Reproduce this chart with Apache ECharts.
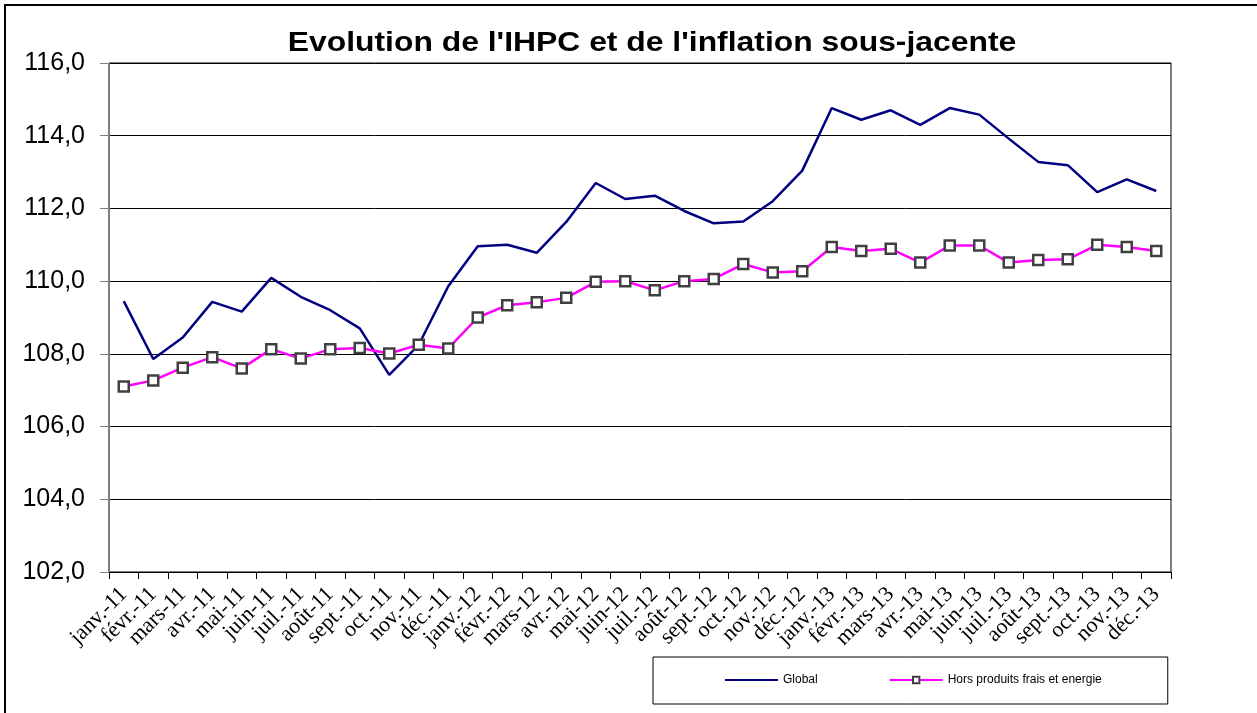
<!DOCTYPE html>
<html>
<head>
<meta charset="utf-8">
<script src="https://cdn.jsdelivr.net/npm/echarts@6/dist/echarts.min.js"></script>
<style>
  html, body { margin: 0; padding: 0; background: #fff; }
  #chart { width: 1257px; height: 713px; }
</style>
</head>
<body>
<div id="chart"></div>
<script>
// mois (janv. 2011 -> déc. 2013)
var months = [
  "janv.-11", "févr.-11", "mars-11", "avr.-11", "mai-11", "juin-11",
  "juil.-11", "août-11", "sept.-11", "oct.-11", "nov.-11", "déc.-11",
  "janv.-12", "févr.-12", "mars-12", "avr.-12", "mai-12", "juin-12",
  "juil.-12", "août-12", "sept.-12", "oct.-12", "nov.-12", "déc.-12",
  "janv.-13", "févr.-13", "mars-13", "avr.-13", "mai-13", "juin-13",
  "juil.-13", "août-13", "sept.-13", "oct.-13", "nov.-13", "déc.-13"
];

// IHPC global
var globalVals = [
  109.45, 107.86, 108.45, 109.43, 109.16, 110.09, 109.57, 109.20, 108.70, 107.42, 108.25, 109.86,
  110.96, 111.00, 110.78, 111.63, 112.70, 112.26, 112.35, 111.93, 111.59, 111.64, 112.20, 113.04,
  114.76, 114.44, 114.70, 114.30, 114.76, 114.58, 113.92, 113.28, 113.19, 112.45, 112.80, 112.48
];

// hors produits frais et energie
var coreVals = [
  107.10, 107.27, 107.62, 107.91, 107.60, 108.13, 107.87, 108.13, 108.16, 108.01, 108.25, 108.15,
  109.00, 109.34, 109.42, 109.54, 109.98, 110.00, 109.75, 110.00, 110.06, 110.47, 110.24, 110.27,
  110.94, 110.83, 110.89, 110.51, 110.98, 110.98, 110.51, 110.58, 110.60, 111.00, 110.94, 110.83
];

var yMin = 102, yMax = 116, yStep = 2;

var myChart = echarts.init(document.getElementById("chart"));

var option = {
  animation: false,
  backgroundColor: "#fff",
  legend: {
    left: 653,
    top: 657,
    orient: "horizontal",
    padding: [17, 66, 18, 71],
    itemGap: 71,
    itemWidth: 53,
    itemHeight: 8,
    borderColor: "#000",
    borderWidth: 1,
    textStyle: {
      fontFamily: "Liberation Sans",
      fontSize: 12,
      color: "#000"
    },
    data: [
      { name: "Global", itemStyle: { opacity: 0 } },
      { name: "Hors produits frais et energie" }
    ]
  },
  grid: {
    left: 109,
    right: 86,
    top: 63,
    bottom: 141,
    show: true,
    borderColor: "#000",
    borderWidth: 1
  },
  xAxis: {
    type: "category",
    data: months,
    boundaryGap: true,
    axisLine: { lineStyle: { color: "#000", width: 1 } },
    axisTick: { show: true, interval: 0, length: 7, lineStyle: { color: "#000" } },
    axisLabel: {
      interval: 0,
      rotate: 45,
      margin: 19,
      fontFamily: "Liberation Serif",
      fontSize: 22,
      color: "#000"
    }
  },
  yAxis: {
    type: "value",
    min: yMin,
    max: yMax,
    interval: yStep,
    axisLine: { show: true, lineStyle: { color: "#808080", width: 1 } },
    axisTick: { show: true, length: 9, lineStyle: { color: "#808080" } },
    axisLabel: {
      margin: 24,
      fontFamily: "Liberation Sans",
      fontSize: 25,
      color: "#000",
      formatter: function (v) { return v.toFixed(1).replace(".", ","); }
    },
    splitLine: { show: true, lineStyle: { color: "#000", width: 1 } }
  },
  graphic: [
    {
      type: "rect",
      shape: { x: 5, y: 5, width: 1400, height: 900 },
      style: { fill: null, stroke: "#000", lineWidth: 2 },
      silent: true
    },
    {
      // titre, un peu étiré en largeur comme dans l'original
      type: "text",
      x: 652,
      y: 44,
      scaleX: 1.18,
      style: {
        text: "Evolution de l'IHPC et de l'inflation sous-jacente",
        font: "bold 27px 'Liberation Sans'",
        fill: "#000",
        textAlign: "center",
        textVerticalAlign: "middle"
      },
      silent: true
    }
  ],
  series: [
    {
      name: "Global",
      type: "line",
      data: globalVals,
      symbol: "none",
      color: "#000080",
      lineStyle: { color: "#000080", width: 2.5 }
    },
    {
      name: "Hors produits frais et energie",
      type: "line",
      data: coreVals,
      symbol: "rect",
      symbolSize: 10,
      lineStyle: { color: "#ff00ff", width: 2.5 },
      itemStyle: { color: "#fff", borderColor: "#404040", borderWidth: 2.5 }
    }
  ]
};

myChart.setOption(option);
</script>
</body>
</html>
